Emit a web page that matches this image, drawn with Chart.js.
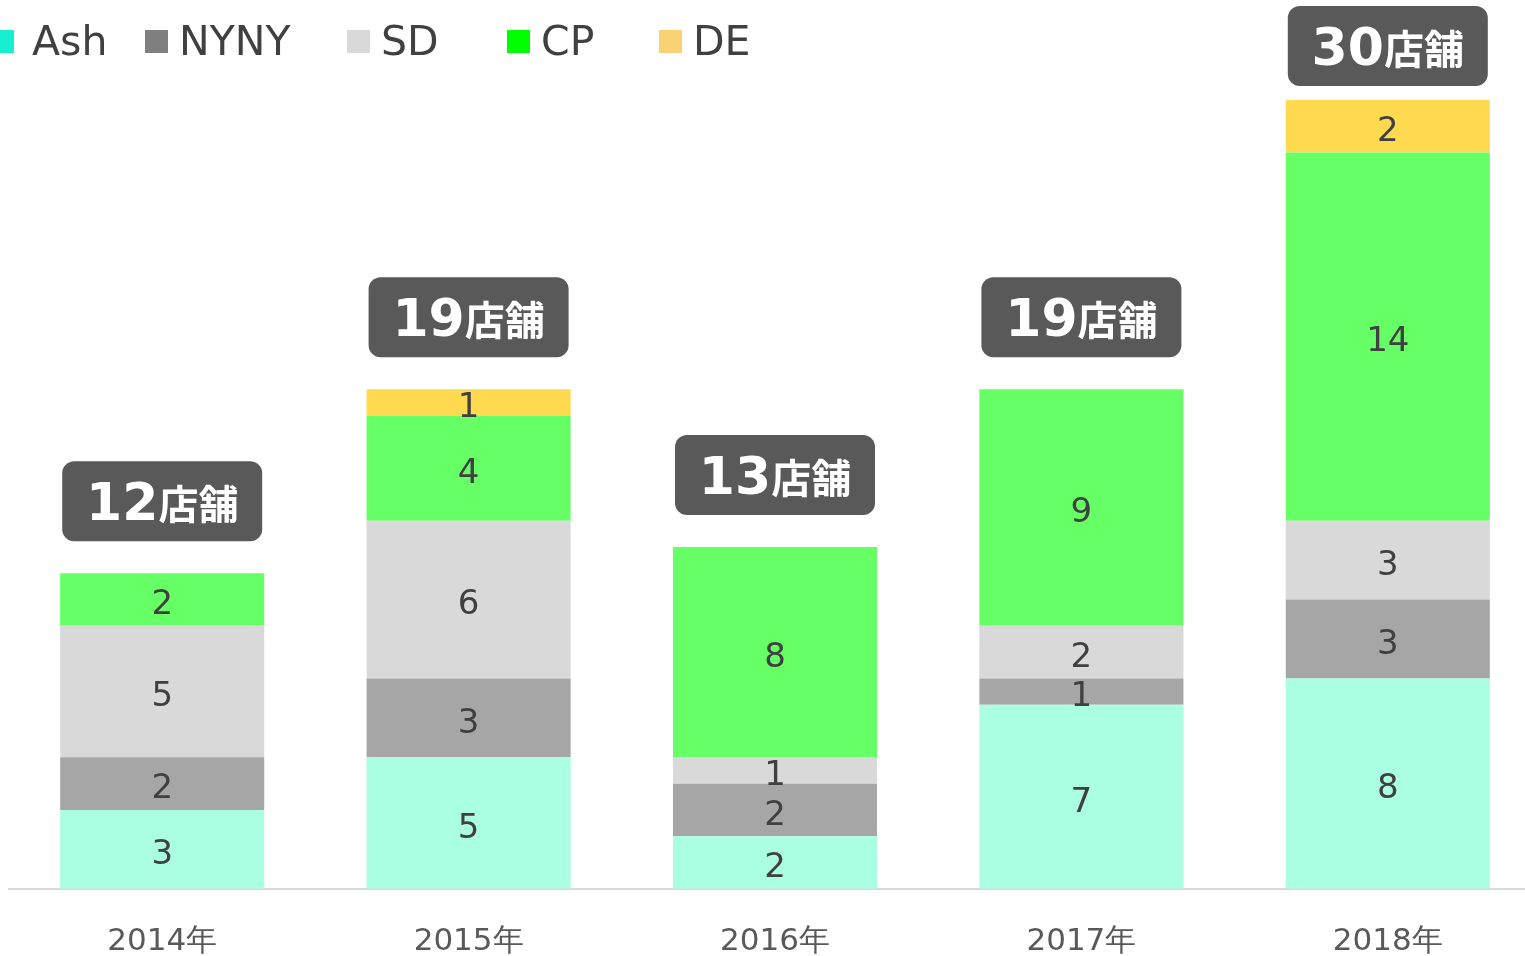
<!DOCTYPE html>
<html>
<head>
<meta charset="utf-8">
<script src="https://cdn.jsdelivr.net/npm/chart.js@4"></script>
<style>
  html, body { margin: 0; padding: 0; background: #fff; overflow: hidden; }
  #wrap { width: 1545px; height: 956px; position: relative; }
</style>
</head>
<body>
<div id="wrap"><canvas id="storeChart"></canvas></div>
<script>
//------------------------ DONNEES ------------------------------

const years = ["2014年", "2015年", "2016年", "2017年", "2018年"];
const seriesNames = ["Ash", "NYNY", "SD", "CP", "DE"];
const ashValues  = [3, 5, 2, 7, 8];
const nynyValues = [2, 3, 2, 1, 3];
const sdValues   = [5, 6, 1, 2, 3];
const cpValues   = [2, 4, 8, 9, 14];
const deValues   = [0, 1, 0, 0, 2];
const totalUnit = "店舗";

const barColors    = ["#AAFFE2", "#A6A6A6", "#D9D9D9", "#66FF66", "#FFD94F"];
const legendColors = ["#16F0D0", "#7F7F7F", "#D9D9D9", "#00FF00", "#FAD273"];
const legendX     = [-9, 145, 347, 507, 659];
const legendTextX = [32, 179, 381, 541, 693];

const allValues = [ashValues, nynyValues, sdValues, cpValues, deValues];

//---------------Plugins-------------------------

// valeurs au centre des segments
const segmentLabels = {
    id: "segmentLabels",
    afterDatasetsDraw(chart) {
        const ctx = chart.ctx;
        ctx.save();
        ctx.font = "34px 'DejaVu Sans'";
        ctx.fillStyle = "#404040";
        ctx.textAlign = "center";
        ctx.textBaseline = "middle";
        chart.data.datasets.forEach((ds, i) => {
            const meta = chart.getDatasetMeta(i);
            meta.data.forEach((bar, j) => {
                const v = ds.data[j];
                if (!v) return;
                ctx.fillText(String(v), bar.x, (bar.y + bar.base) / 2 + 6);
            });
        });
        ctx.restore();
    }
};

// boite du total "xx店舗"
const totalBoxes = {
    id: "totalBoxes",
    afterDraw(chart) {
        const ctx = chart.ctx;
        const yScale = chart.scales.y;
        const firstMeta = chart.getDatasetMeta(0);
        ctx.save();
        years.forEach((y, j) => {
            let total = 0;
            allValues.forEach(arr => total += arr[j]);
            const x = firstMeta.data[j].x;
            const top = yScale.getPixelForValue(total);
            const w = 200, h = 80;
            const boxTop = Math.max(6, top - 32 - h);
            ctx.fillStyle = "#595959";
            ctx.beginPath();
            ctx.roundRect(x - w / 2, boxTop, w, h, 12);
            ctx.fill();

            const numFont = "bold 52px 'DejaVu Sans'";
            const unitFont = "bold 40px 'Noto Sans CJK JP'";
            ctx.font = numFont;
            const nw = ctx.measureText(String(total)).width;
            ctx.font = unitFont;
            const uw = ctx.measureText(totalUnit).width;
            const start = x - (nw + uw) / 2;
            const base = boxTop + 59;
            ctx.fillStyle = "#FFFFFF";
            ctx.textAlign = "left";
            ctx.textBaseline = "alphabetic";
            ctx.font = numFont;
            ctx.fillText(String(total), start, base);
            ctx.font = unitFont;
            ctx.fillText(totalUnit, start + nw, base - 1);
        });
        ctx.restore();
    }
};

// legende a positions fixes
const fixedLegend = {
    id: "fixedLegend",
    afterDraw(chart) {
        const ctx = chart.ctx;
        ctx.save();
        ctx.font = "41px 'DejaVu Sans'";
        ctx.textBaseline = "middle";
        ctx.textAlign = "left";
        seriesNames.forEach((name, i) => {
            ctx.fillStyle = legendColors[i];
            ctx.fillRect(legendX[i], 30, 23, 23);
            ctx.fillStyle = "#404040";
            ctx.fillText(name, legendTextX[i], 44);
        });
        ctx.restore();
    }
};

//---------------Graphe-------------------------

function buildDatasets() {
    return seriesNames.map((name, i) => ({
        label: name,
        data: allValues[i],
        backgroundColor: barColors[i],
        borderWidth: 0,
        barPercentage: 0.666,
        categoryPercentage: 1.0
    }));
}

const chart = new Chart(document.getElementById("storeChart"), {
    type: "bar",
    data: { labels: years, datasets: buildDatasets() },
    options: {
        responsive: true,
        maintainAspectRatio: false,
        animation: false,
        layout: { padding: { top: 100, left: 9, right: 4, bottom: -40 } },
        plugins: {
            legend: { display: false },
            tooltip: { enabled: false }
        },
        scales: {
            x: {
                stacked: true,
                grid: { display: false, drawTicks: false },
                border: { display: true, color: "#D9D9D9", width: 2 },
                ticks: {
                    color: "#595959",
                    font: { family: "'DejaVu Sans'", size: 31 },
                    padding: 35
                }
            },
            y: {
                stacked: true,
                display: false,
                min: 0,
                max: 30
            }
        }
    },
    plugins: [segmentLabels, totalBoxes, fixedLegend]
});
</script>
</body>
</html>
